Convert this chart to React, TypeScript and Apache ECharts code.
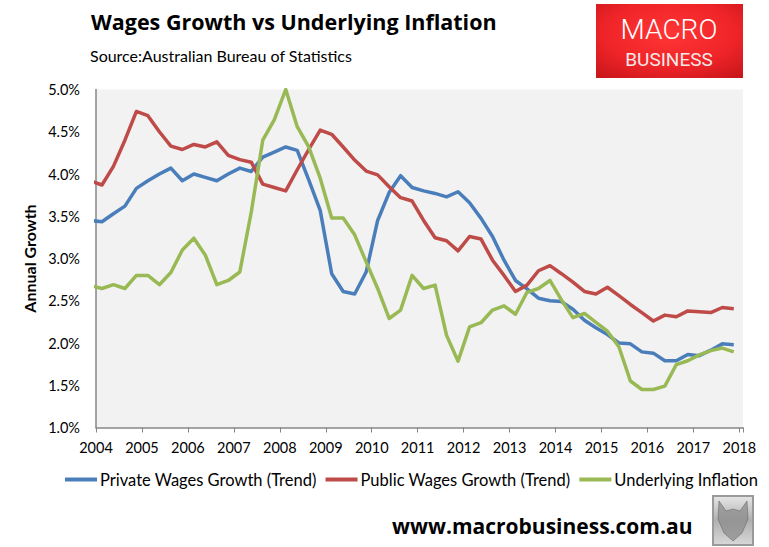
import React, { useEffect, useRef } from "react";
import * as echarts from "echarts";

// Quarter end months (Dec-2003 to Dec-2017)
const quarters: string[] = [];
quarters.push("2003-12");
for (let y = 2004; y <= 2017; y++) {
  for (const m of ["03", "06", "09", "12"]) quarters.push(`${y}-${m}`);
}

const yearTicks = [2004, 2005, 2006, 2007, 2008, 2009, 2010, 2011, 2012, 2013, 2014, 2015, 2016, 2017, 2018];

const privateWages = [
  3.45,
  3.435, 3.53, 3.62, 3.83,
  3.92, 4.0, 4.07, 3.92,
  4.0, 3.96, 3.92, 4.0,
  4.07, 4.03, 4.2, 4.26,
  4.32, 4.28, 3.93, 3.57,
  2.82, 2.61, 2.58, 2.84,
  3.45, 3.78, 3.98, 3.84,
  3.8, 3.77, 3.73, 3.79,
  3.66, 3.475, 3.26, 2.98,
  2.74, 2.64, 2.53, 2.5,
  2.49, 2.4, 2.27, 2.18,
  2.1, 2.0, 1.99, 1.895,
  1.88, 1.79, 1.79, 1.865,
  1.85, 1.915, 1.99, 1.98,
];

const publicWages = [
  3.92,
  3.87, 4.09, 4.4, 4.74,
  4.69, 4.5, 4.33, 4.29,
  4.35, 4.32, 4.38, 4.22,
  4.17, 4.14, 3.88, 3.84,
  3.8, 4.05, 4.29, 4.52,
  4.47, 4.32, 4.165, 4.035,
  3.99, 3.85, 3.72, 3.68,
  3.45, 3.245, 3.21, 3.09,
  3.26, 3.23, 2.98, 2.8,
  2.61, 2.685, 2.855, 2.915,
  2.82, 2.72, 2.61, 2.58,
  2.66, 2.56, 2.456, 2.36,
  2.26, 2.33, 2.31, 2.38,
  2.37, 2.36, 2.42, 2.405,
];

const underlyingInflation = [
  2.68,
  2.645, 2.69, 2.645, 2.8,
  2.8, 2.69, 2.835, 3.1,
  3.24, 3.04, 2.69, 2.74,
  2.84, 3.55, 4.4, 4.64,
  5.0, 4.56, 4.32, 3.95,
  3.48, 3.48, 3.28, 2.96,
  2.645, 2.29, 2.39, 2.8,
  2.645, 2.685, 2.09, 1.785,
  2.19, 2.24, 2.39, 2.44,
  2.34, 2.6, 2.645, 2.74,
  2.51, 2.3, 2.35, 2.245,
  2.14, 1.955, 1.55, 1.45,
  1.45, 1.49, 1.745, 1.79,
  1.86, 1.91, 1.94, 1.895,
];

const seriesNames = [
  "Private Wages Growth (Trend)",
  "Public Wages Growth (Trend)",
  "Underlying Inflation",
];
const seriesColors = ["#4a7ebb", "#be4b48", "#98b954"];

const toYear = (q: string) => {
  const [y, m] = q.split("-").map(Number);
  return y + (m - 1.45) / 12;
};

export default function App() {
  const ref = useRef<HTMLDivElement>(null);
  useEffect(() => {
    document.body.style.margin = "0";
    if (!ref.current) return;
    const chart = echarts.init(ref.current, undefined, { renderer: "svg" });
    const allValues = [privateWages, publicWages, underlyingInflation];
    const axisColor = "#868686";
    chart.setOption({
      animation: false,
      grid: {
        left: 96,
        right: 26,
        top: 89.5,
        bottom: 119.5,
        show: true,
        backgroundColor: "#f2f2f2",
        borderWidth: 0,
      },
      xAxis: {
        type: "value",
        min: yearTicks[0],
        max: 2018.08,
        interval: 1,
        axisLine: { show: true, onZero: false, lineStyle: { color: axisColor, width: 1.5 } },
        axisTick: { show: true, length: 5, lineStyle: { color: axisColor, width: 1 } },
        axisLabel: {
          formatter: (v: number) => (yearTicks.includes(Math.round(v * 1000) / 1000) ? String(v) : ""),
          color: "#000",
          fontFamily: "Lato",
          fontSize: 14.5,
          margin: 12,
        },
        splitLine: { show: false },
      },
      yAxis: {
        type: "value",
        min: 1,
        max: 5,
        interval: 0.5,
        axisLine: { show: true, lineStyle: { color: axisColor, width: 1.5 } },
        axisTick: { show: false },
        axisLabel: {
          formatter: (v: number) => v.toFixed(1) + "%",
          color: "#000",
          fontFamily: "Lato",
          fontSize: 14.5,
          margin: 16,
        },
        splitLine: { show: false },
        name: "Annual Growth",
        nameLocation: "middle",
        nameGap: 58,
        nameRotate: 90,
        nameTextStyle: { fontWeight: "bold", fontSize: 16, fontFamily: "Lato", color: "#000" },
      },
      legend: {
        top: 466,
        left: 60,
        icon: "rect",
        itemWidth: 32,
        itemHeight: 4,
        itemGap: 9,
        textStyle: { fontSize: 16.5, fontFamily: "Lato", color: "#000", padding: [0, 0, 0, -2] },
        data: seriesNames,
      },
      series: allValues.map((vals, k) => ({
        name: seriesNames[k],
        type: "line",
        showSymbol: false,
        symbol: "none",
        clip: true,
        color: seriesColors[k],
        lineStyle: { width: 3.5, color: seriesColors[k], join: "round" },
        data: quarters.map((q, i) => [toYear(q), vals[i]]),
      })),
      graphic: [
        {
          type: "text",
          left: 91,
          top: 10,
          style: {
            text: "Wages Growth vs Underlying Inflation",
            font: 'bold 21.5px "Open Sans"',
            fill: "#000",
          },
        },
        {
          type: "text",
          left: 90,
          top: 47,
          style: {
            text: "Source:Australian Bureau of Statistics",
            font: '16px "Lato"',
            fill: "#000",
          },
        },
        {
          type: "rect",
          shape: { x: 596, y: 4, width: 147, height: 74 },
          style: {
            fill: new echarts.graphic.RadialGradient(0.5, 0.4, 0.75, [
              { offset: 0, color: "#ff3535" },
              { offset: 0.6, color: "#ee2428" },
              { offset: 1, color: "#c8161b" },
            ]),
          },
        },
        {
          type: "text",
          style: {
            x: 669,
            y: 29,
            text: "MACRO",
            font: '300 28px "Roboto"',
            fill: "#fff",
            align: "center",
            verticalAlign: "middle",
          },
        },
        {
          type: "text",
          style: {
            x: 669,
            y: 59,
            text: "BUSINESS",
            font: '19px "Roboto"',
            fill: "#f4e8e8",
            align: "center",
            verticalAlign: "middle",
          },
        },
        {
          type: "text",
          style: {
            x: 392,
            y: 526,
            text: "www.macrobusiness.com.au",
            font: 'bold 21px "Open Sans"',
            fill: "#000",
            verticalAlign: "middle",
          },
        },
        {
          type: "rect",
          shape: { x: 713, y: 496, width: 40, height: 49 },
          style: {
            fill: new echarts.graphic.LinearGradient(0, 0, 0, 1, [
              { offset: 0, color: "#e6e6e6" },
              { offset: 0.5, color: "#b0b0b0" },
              { offset: 1, color: "#d8d8d8" },
            ]),
            stroke: "#9a9a9a",
            lineWidth: 2,
          },
        },
        {
          type: "polygon",
          shape: {
            points: [
              [719, 501], [726, 511], [733, 509], [740, 511], [747, 501],
              [748, 519], [742, 533], [733, 541], [724, 533], [718, 519],
            ],
          },
          style: { fill: "#8c8c8c", stroke: "#555", lineWidth: 0.6, opacity: 0.75 },
        },
      ],
    });
    return () => chart.dispose();
  }, []);
  return <div ref={ref} style={{ width: 769, height: 547 }} />;
}
